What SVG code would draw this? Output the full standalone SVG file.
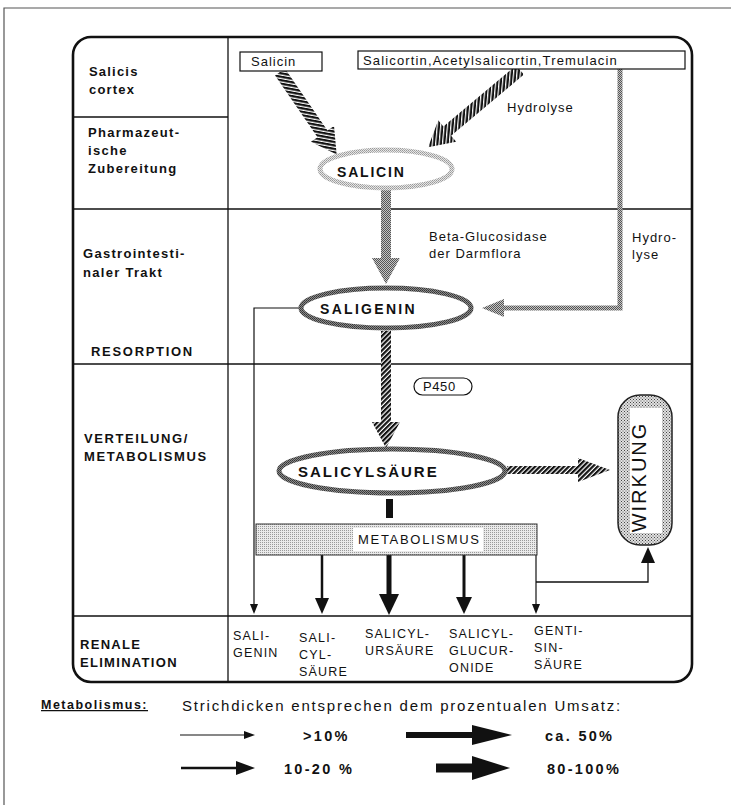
<svg xmlns="http://www.w3.org/2000/svg" width="731" height="805" viewBox="0 0 731 805">
<defs>
<pattern id="hatch" patternUnits="userSpaceOnUse" width="3.4" height="3.4" patternTransform="rotate(45)">
<rect width="3.4" height="3.4" fill="#fff"/><rect width="2.2" height="3.4" fill="#111"/>
</pattern>
<pattern id="gray" patternUnits="userSpaceOnUse" width="2" height="2">
<rect width="2" height="2" fill="#c4c4c4"/><rect width="1" height="1" fill="#555"/><rect x="1" y="1" width="1" height="1" fill="#555"/>
</pattern>
<pattern id="light" patternUnits="userSpaceOnUse" width="2" height="2">
<rect width="2" height="2" fill="#e6e6e6"/><rect width="1" height="1" fill="#999"/><rect x="1" y="1" width="1" height="1" fill="#aaa"/>
</pattern>
<pattern id="dark" patternUnits="userSpaceOnUse" width="2" height="2">
<rect width="2" height="2" fill="#8a8a8a"/><rect width="1" height="1" fill="#333"/><rect x="1" y="1" width="1" height="1" fill="#444"/>
</pattern>
<pattern id="stipple" patternUnits="userSpaceOnUse" width="2" height="2">
<rect width="2" height="2" fill="#eaeaea"/><rect width="1" height="1" fill="#9a9a9a"/>
</pattern>
<pattern id="cross" patternUnits="userSpaceOnUse" width="3" height="3">
<rect width="3" height="3" fill="#e0e0e0"/><rect width="1" height="1" fill="#444"/><rect x="1.5" y="1.5" width="1" height="1" fill="#555"/>
</pattern>
</defs>
<style>
.lbl{font-family:"Liberation Sans",Arial,sans-serif;font-weight:bold;font-size:13px;letter-spacing:1.4px;fill:#111}
.txt{font-family:"Liberation Sans",Arial,sans-serif;font-size:13px;letter-spacing:1px;fill:#111}
.out{font-family:"Liberation Sans",Arial,sans-serif;font-size:12.5px;letter-spacing:1.2px;fill:#111}
.node{font-family:"Liberation Sans",Arial,sans-serif;font-weight:bold;font-size:14px;fill:#111}
.leg{font-family:"Liberation Sans",Arial,sans-serif;font-weight:bold;font-size:14.5px;letter-spacing:2.3px;fill:#111}
.grid{stroke:#111;stroke-width:1.3;fill:none}
.ln{stroke:#111;fill:none}
.hd{fill:#111}
</style>
<rect width="731" height="805" fill="#fff"/>
<path d="M4,805 V8 H731" fill="none" stroke="#555" stroke-width="1.2"/>

<g id="frame">
<rect x="73" y="37" width="619" height="645" rx="18" fill="none" stroke="#111" stroke-width="2.6"/>
<line class="grid" x1="228" y1="37" x2="228" y2="682"/>
<line class="grid" x1="73" y1="117" x2="228" y2="117"/>
<line class="grid" x1="73" y1="209" x2="692" y2="209"/>
<line class="grid" x1="73" y1="364" x2="692" y2="364"/>
<line class="grid" x1="73" y1="616" x2="692" y2="616"/>
</g>

<g id="row-labels">
<text class="lbl" x="89" y="76" style="letter-spacing:1.2px">Salicis</text>
<text class="lbl" x="89" y="94" style="letter-spacing:1.2px">cortex</text>
<text class="lbl" x="88" y="137" style="letter-spacing:1.3px">Pharmazeut-</text>
<text class="lbl" x="88" y="155" style="letter-spacing:1.3px">ische</text>
<text class="lbl" x="88" y="173" style="letter-spacing:1.3px">Zubereitung</text>
<text class="lbl" x="83" y="258" style="letter-spacing:1.3px">Gastrointesti-</text>
<text class="lbl" x="83" y="277" style="letter-spacing:1.3px">naler Trakt</text>
<text class="lbl" x="91" y="356" style="letter-spacing:1.7px">RESORPTION</text>
<text class="lbl" x="84" y="443" style="letter-spacing:1.6px">VERTEILUNG/</text>
<text class="lbl" x="84" y="461" style="letter-spacing:1.6px">METABOLISMUS</text>
<text class="lbl" x="80" y="649" style="letter-spacing:1.3px">RENALE</text>
<text class="lbl" x="80" y="667" style="letter-spacing:1.3px">ELIMINATION</text>
</g>

<g id="connectors">
<polygon points="0,-6 75,-6 75,-14 100,0 75,14 75,6 0,6" fill="url(#hatch)" transform="translate(280,72) rotate(55.5)"/>
<polygon points="0,-6 95,-6 95,-14 120,0 95,14 95,6 0,6" fill="url(#hatch)" transform="translate(520,70) rotate(140)"/>
<polygon points="381,190 391,190 391,258 400,258 386,284 372,258 381,258" fill="url(#gray)"/>
<path d="M620,69 V308 H502" fill="none" stroke="url(#gray)" stroke-width="5"/>
<polygon points="482,308 504,299 504,317" fill="url(#gray)"/>
<polygon points="381,331 391,331 391,422 400,422 386,448 372,422 381,422" fill="url(#hatch)"/>
<polygon points="507,466 578,466 578,458 610,470 578,482 578,474 507,474" fill="url(#hatch)"/>
<rect x="386" y="499" width="7" height="19" fill="#111"/>
<path class="ln" d="M300,308 H254 V606" stroke-width="1.2"/>
<polygon class="hd" points="250,604 258,604 254,614"/>
<line class="ln" x1="322" y1="555" x2="322" y2="600" stroke-width="2.5"/>
<polygon class="hd" points="315,598 329,598 322,614"/>
<line class="ln" x1="389" y1="555" x2="389" y2="596" stroke-width="5"/>
<polygon class="hd" points="379,594 399,594 389,615"/>
<line class="ln" x1="464" y1="555" x2="464" y2="600" stroke-width="3"/>
<polygon class="hd" points="456,597 472,597 464,614"/>
<line class="ln" x1="536" y1="555" x2="536" y2="606" stroke-width="1.2"/>
<polygon class="hd" points="532,604 540,604 536,614"/>
<path class="ln" d="M536,582 H648 V562" stroke-width="1.3"/>
<polygon class="hd" points="641,563 655,563 648,547"/>
</g>

<g id="salicin-source">
<rect x="240" y="52" width="82" height="19" fill="#fff" stroke="#111" stroke-width="1.2"/>
<text class="txt" x="251" y="66">Salicin</text>
</g>
<g id="salicortin-source">
<rect x="358" y="51" width="327" height="18" fill="#fff" stroke="#111" stroke-width="1.2"/>
<text class="txt" x="363" y="65" style="letter-spacing:1.15px">Salicortin,Acetylsalicortin,Tremulacin</text>
</g>
<g id="hydrolyse-labels">
<text class="txt" x="507" y="112">Hydrolyse</text>
<text class="txt" x="429" y="241">Beta-Glucosidase</text>
<text class="txt" x="429" y="258">der Darmflora</text>
<text class="txt" x="632" y="242">Hydro-</text>
<text class="txt" x="632" y="259">lyse</text>
</g>

<g id="salicin">
<ellipse cx="386" cy="169" rx="66" ry="19" fill="#fff" stroke="url(#light)" stroke-width="5"/>
<text class="node" x="337" y="177" style="letter-spacing:1.8px">SALICIN</text>
</g>
<g id="saligenin">
<ellipse cx="386" cy="308" rx="85" ry="20" fill="#fff" stroke="url(#dark)" stroke-width="5"/>
<text class="node" x="320" y="314" style="letter-spacing:2.3px">SALIGENIN</text>
</g>
<g id="p450">
<rect x="414" y="378" width="58" height="17" rx="8.5" fill="#fff" stroke="#111" stroke-width="1.2"/>
<text class="txt" x="423" y="391" style="letter-spacing:0.6px">P450</text>
</g>
<g id="salicylsaeure">
<ellipse cx="392" cy="471" rx="113" ry="22" fill="#fff" stroke="url(#dark)" stroke-width="5"/>
<text class="node" x="298" y="477" style="font-size:15px;letter-spacing:2px">SALICYLSÄURE</text>
</g>
<g id="wirkung">
<rect x="618" y="395" width="54" height="150" rx="22" fill="url(#cross)" stroke="#222" stroke-width="1.5"/>
<rect x="630" y="408" width="32" height="125" fill="#fff"/>
<text class="txt" transform="translate(646,477) rotate(-90)" text-anchor="middle" style="font-size:20px;letter-spacing:2px">WIRKUNG</text>
</g>
<g id="metabolismus">
<rect x="256" y="524" width="281" height="31" fill="url(#stipple)" stroke="#333" stroke-width="1"/>
<rect x="353" y="528" width="130" height="23" fill="#fff"/>
<text class="txt" x="358" y="544" style="letter-spacing:1.7px">METABOLISMUS</text>
</g>

<g id="outputs">
<text class="out" x="233" y="640">SALI-</text>
<text class="out" x="233" y="657">GENIN</text>
<text class="out" x="299" y="642">SALI-</text>
<text class="out" x="299" y="659">CYL-</text>
<text class="out" x="299" y="676">SÄURE</text>
<text class="out" x="365" y="638">SALICYL-</text>
<text class="out" x="365" y="655">URSÄURE</text>
<text class="out" x="449" y="638">SALICYL-</text>
<text class="out" x="449" y="655">GLUCUR-</text>
<text class="out" x="449" y="672">ONIDE</text>
<text class="out" x="534" y="635">GENTI-</text>
<text class="out" x="534" y="652">SIN-</text>
<text class="out" x="534" y="669">SÄURE</text>
</g>

<g id="legend">
<text class="lbl" x="41" y="709" style="font-size:12.5px;letter-spacing:1.5px;text-decoration:underline">Metabolismus:</text>
<text class="txt" x="182" y="711" style="font-size:15px;letter-spacing:1.8px">Strichdicken entsprechen dem prozentualen Umsatz:</text>
<line class="ln" x1="180" y1="735" x2="246" y2="735" stroke-width="1.2"/>
<polygon class="hd" points="244,731 244,739 255,735"/>
<text class="leg" x="303" y="741">&gt;10%</text>
<line class="ln" x1="406" y1="735" x2="474" y2="735" stroke-width="6"/>
<polygon class="hd" points="472,725 472,745 512,735"/>
<text class="leg" x="545" y="741">ca. 50%</text>
<line class="ln" x1="181" y1="768" x2="238" y2="768" stroke-width="2.5"/>
<polygon class="hd" points="236,761 236,775 255,768"/>
<text class="leg" x="284" y="774">10-20 %</text>
<line class="ln" x1="436" y1="768" x2="474" y2="768" stroke-width="9"/>
<polygon class="hd" points="472,756 472,780 510,768"/>
<text class="leg" x="547" y="774">80-100%</text>
</g>
</svg>
